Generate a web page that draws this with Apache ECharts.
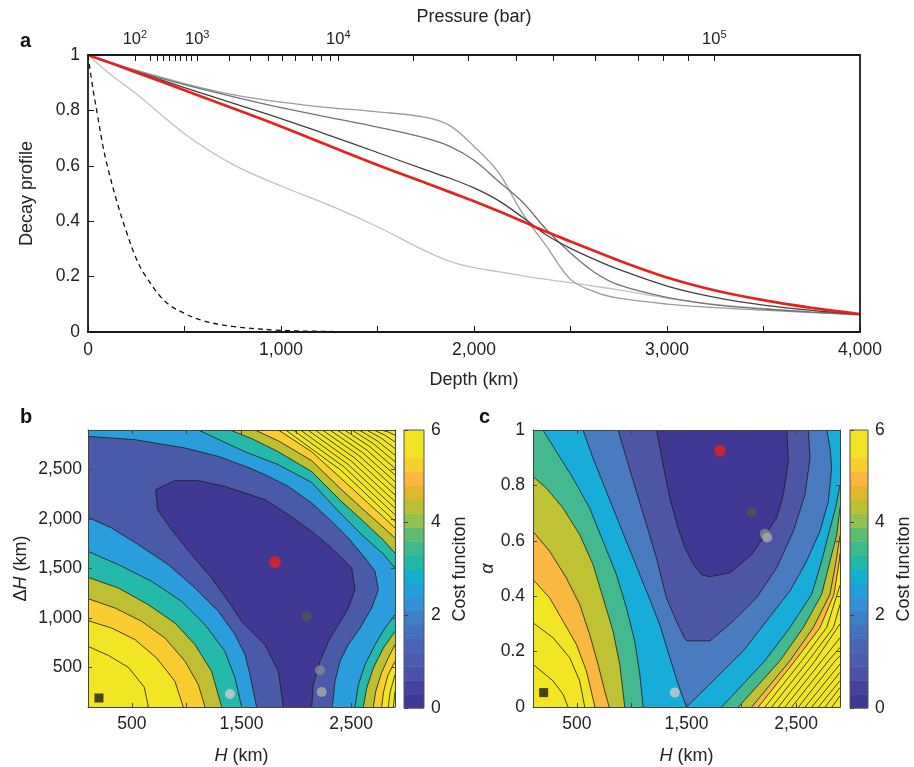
<!DOCTYPE html>
<html>
<head>
<meta charset="utf-8">
<script src="https://cdn.jsdelivr.net/npm/echarts@6/dist/echarts.min.js"></script>
<style>html,body{margin:0;padding:0;background:#fff}#main{width:914px;height:767px}</style>
</head>
<body>
<div id="main"></div>
<script>
// ================= DATA =================
// ---- Panel a: decay profiles vs depth
const depthKm        = [0,125,250,500,750,1000,1250,1500,1750,1875,2000,2125,2250,2375,2500,2625,2750,3000,3250,3500,3750,4000];
const profileBest    = [1,0.969,0.937,0.873,0.808,0.742,0.672,0.603,0.538,0.505,0.472,0.437,0.400,0.362,0.327,0.292,0.258,0.197,0.150,0.115,0.087,0.065];
const profileDark    = [1,0.970,0.940,0.882,0.826,0.770,0.710,0.648,0.585,0.555,0.520,0.475,0.415,0.350,0.302,0.262,0.226,0.166,0.125,0.097,0.078,0.063];
const profileMid     = [1,0.970,0.942,0.893,0.850,0.810,0.775,0.740,0.700,0.670,0.620,0.545,0.470,0.370,0.285,0.215,0.170,0.125,0.098,0.083,0.072,0.064];
const profileSteep   = [1,0.972,0.945,0.897,0.857,0.830,0.810,0.795,0.775,0.745,0.670,0.578,0.430,0.310,0.190,0.145,0.122,0.101,0.088,0.079,0.070,0.063];
const profileShallow = [1,0.925,0.860,0.716,0.605,0.527,0.458,0.380,0.292,0.255,0.232,0.218,0.203,0.190,0.178,0.165,0.152,0.122,0.100,0.085,0.072,0.060];
const dashedDepthKm  = [0,25,50,75,100,150,200,250,300,400,500,600,750,1000,1250,1350];
const profileDashed  = [1,0.88,0.78,0.68,0.60,0.47,0.36,0.265,0.20,0.11,0.067,0.04,0.02,0.006,0.002,0.001];
// top axis: pressure ticks (bar) and the depth (km) where they sit
const pressureTickBar     = [100,200,300,400,500,600,700,800,900,1000,2000,3000,4000,5000,6000,7000,8000,9000,10000,20000,30000,40000,50000,60000,70000,80000,90000,100000];
const pressureTickDepthKm = [243,321,361,392,421,451,480,511,537,566,732,839,934,1007,1076,1164,1211,1254,1297,1686,1970,2221,2411,2627,2851,2978,3110,3245];
const pressureLabelBar     = [100,1000,10000,100000];
const pressureLabelDepthKm = [243,566,1297,3245];

// ---- Panel b: cost function contours, H (km) vs dH (km)
const bCore = [[1882,100],[1836,460],[1714,730],[1501,966],[1380,1168],[1228,1404],[1045,1640],[863,1892],[735,2094],[717,2297],[893,2388],[1106,2388],[1349,2330],[1532,2263],[1714,2196],[1927,2044],[2140,1875],[2322,1707],[2505,1505],[2535,1286],[2474,1101],[2383,932],[2292,764],[2216,562],[2155,326],[2140,100]];
const bLL2 = [[100,2017],[316,1909],[559,1741],[833,1539],[1076,1303],[1289,1067],[1441,831],[1532,629],[1577,427],[1638,100]];
const bUpper2 = [[2328,100],[2353,359],[2398,562],[2474,730],[2581,898],[2687,1101],[2748,1286],[2718,1471],[2626,1606],[2474,1808],[2322,1977],[2140,2162],[1927,2330],[1714,2448],[1574,2516],[1289,2633],[985,2718],[529,2802],[100,2836]];
const bLL3 = [[100,1673],[377,1539],[681,1370],[954,1168],[1167,932],[1349,663],[1441,393],[1501,100]];
const bLL4 = [[100,1411],[377,1303],[650,1134],[893,949],[1076,730],[1228,460],[1319,100]];
const bLL5 = [[100,1195],[346,1101],[589,966],[802,797],[985,562],[1106,326],[1167,100]];
const bLL6 = [[100,973],[316,898],[529,781],[726,595],[893,359],[969,100]];
const bLL7 = [[100,713],[285,622],[468,501],[614,299],[650,100]];
const bLR3 = [[2535,100],[2566,326],[2626,528],[2718,730],[2809,898],[2900,1033]];
const bLR4 = [[2611,100],[2642,292],[2702,494],[2794,696],[2900,865]];
const bLR5 = [[2702,100],[2725,260],[2775,440],[2840,600],[2900,730]];
const bLR6 = [[2778,100],[2795,250],[2835,420],[2900,562]];
const bLRHatch = [[[2839,100],[2855,250],[2900,427]],[[2885,100],[2900,258]]];
const bUR3 = [[2900,1505],[2800,1640],[2596,1842],[2400,2060],[2140,2370],[1836,2549],[1532,2680],[1300,2800],[1106,2900]];
const bUR4 = [[2900,1656],[2800,1780],[2596,1993],[2400,2190],[2140,2480],[1836,2680],[1600,2810],[1395,2900]];
const bUR5 = [[2900,1808],[2780,1930],[2596,2111],[2400,2310],[2140,2590],[1836,2790],[1623,2900]];
const bUR6 = [[2900,1909],[2780,2035],[2596,2220],[2400,2420],[2140,2680],[1836,2900]];
const bURHatch = [
  [[1903,2900],[2402,2498],[2900,1976]],[[1970,2900],[2435,2527],[2900,2043]],
  [[2037,2900],[2469,2555],[2900,2110]],[[2104,2900],[2502,2585],[2900,2177]],
  [[2171,2900],[2536,2614],[2900,2244]],[[2238,2900],[2569,2644],[2900,2311]],
  [[2305,2900],[2603,2673],[2900,2378]],[[2372,2900],[2636,2703],[2900,2445]],
  [[2439,2900],[2670,2732],[2900,2512]],[[2506,2900],[2703,2762],[2900,2579]],
  [[2573,2900],[2737,2791],[2900,2646]],[[2640,2900],[2770,2821],[2900,2713]],
  [[2707,2900],[2804,2850],[2900,2780]],[[2774,2900],[2837,2880],[2900,2847]]
];
const bBest = [[1805,1566]];
const bDark = [[2094,1016]];
const bMid = [[2216,471]];
const bLight = [[2231,252]];
const bPale = [[1395,231]];
const bStart = [[200,191]];

// ---- Panel c: cost function contours, H (km) vs alpha
const cCore = [[1226,1],[1287,0.874],[1348,0.754],[1420,0.65],[1480,0.58],[1563,0.515],[1640,0.478],[1710,0.47],[1897,0.485],[2095,0.551],[2201,0.611],[2323,0.683],[2383,0.767],[2429,0.887],[2414,1]];
const cLine1 = [[876,1],[952,0.898],[1043,0.778],[1135,0.658],[1226,0.538],[1317,0.394],[1408,0.31],[1480,0.25],[1502,0.239],[1715,0.239],[1927,0.311],[2140,0.395],[2323,0.503],[2475,0.635],[2581,0.767],[2627,0.9],[2611,1]];
const cLine2 = [[556,1],[648,0.898],[769,0.778],[891,0.658],[1013,0.538],[1135,0.418],[1256,0.298],[1348,0.178],[1424,0.082],[1500,0],[1745,0.095],[2019,0.203],[2231,0.311],[2444,0.419],[2596,0.527],[2718,0.635],[2794,0.743],[2824,0.863],[2809,0.935],[2779,1]];
const cLL3 = [[191,1],[313,0.922],[465,0.826],[617,0.718],[739,0.598],[861,0.478],[952,0.358],[1028,0.238],[1074,0.118],[1104,0]];
const cLL4 = [[100,0.832],[222,0.79],[374,0.718],[526,0.622],[648,0.514],[739,0.394],[830,0.274],[891,0.154],[937,0]];
const cLL5 = [[100,0.634],[252,0.562],[404,0.466],[526,0.37],[617,0.262],[693,0.154],[754,0.058],[795,0]];
const cLL6 = [[100,0.46],[252,0.394],[374,0.31],[496,0.226],[587,0.13],[665,0]];
const cLLHatch = [[[100,0.304],[283,0.25],[435,0.178],[526,0.094],[572,0]],[[100,0.154],[283,0.094],[374,0.046],[420,0]]];
const cLR3 = [[1821,0],[2216,0.167],[2444,0.287],[2642,0.407],[2733,0.527],[2800,0.63],[2860,0.72],[2900,0.80]];
const cLR4 = [[1973,0],[2353,0.167],[2566,0.287],[2733,0.407],[2809,0.527],[2870,0.62],[2900,0.72]];
const cLR5 = [[2095,0],[2444,0.167],[2657,0.287],[2809,0.407],[2864,0.527],[2900,0.62]];
const cLR6 = [[2155,0],[2490,0.167],[2718,0.287],[2845,0.407],[2894,0.527],[2900,0.555]];
const cLRHatch = [
  [[2216,0],[2551,0.167],[2779,0.287],[2900,0.44]],[[2277,0],[2612,0.167],[2840,0.287],[2900,0.37]],
  [[2338,0],[2673,0.167],[2900,0.30]],[[2399,0],[2734,0.167],[2900,0.25]],
  [[2460,0],[2795,0.167],[2900,0.215]],[[2521,0],[2856,0.167],[2900,0.185]],
  [[2582,0],[2900,0.155]],[[2643,0],[2900,0.125]],[[2704,0],[2900,0.095]],
  [[2765,0],[2900,0.07]],[[2826,0],[2900,0.04]]
];
const cBest = [[1804,0.925]];
const cDark = [[2093,0.703]];
const cMid = [[2215,0.625]];
const cLight = [[2236,0.612]];
const cPale = [[1393,0.052]];
const cStart = [[197,0.052]];

// ---- Colour bar (cost function)
const costLevels = [0,0.3,0.6,0.9,1.2,1.5,1.8,2.1,2.4,2.7,3.0,3.3,3.6,3.9,4.2,4.5,4.8,5.1,5.4,5.7,6.0];
const costTickValues = [0,2,4,6];

// ================= STYLE =================
const FONT = '"Liberation Sans", Arial, Helvetica, sans-serif';
const TXT = '#222';
const barColors = ['#3e3996','#4444a0','#4951a8','#4a5dae','#4866b5','#4472bd','#3d80c8','#3490d8','#209fdc','#14b0cf','#22b8a8','#3cb98e','#5ebc6c','#8fc250','#bcbf34','#e0b72c','#fbb540','#f8cf2e','#f2e424','#f2e424'];
const bColors = ['#3f3995','#4a5aa8','#2a9ddc','#24b9a8','#bfbf34','#f9cd2f','#f2e523'];
const cColors = ['#3f3995','#4d55a5','#4a7abf','#17acd9','#44b990','#bec233','#f9b840','#f2e523'];
const LINE = '#1b1b1b';

function makeContourRenderer(build) {
  return function (params, api) {
    const P = a => a.map(p => api.coord(p));
    const g = [];
    const fill = (arr, color) => g.push({type: 'polygon', shape: {points: P(arr)}, style: {fill: color}});
    const line = arr => g.push({type: 'polyline', shape: {points: P(arr)}, style: {stroke: LINE, lineWidth: 0.8, fill: null}});
    build(fill, line);
    return {type: 'group', children: g};
  };
}

const renderB = makeContourRenderer(function (fill, line) {
  const TL = [100, 2900], TR = [2900, 2900], BR = [2900, 100], BL = [100, 100];
  fill([BL, BR, TR, TL], bColors[6]);
  fill([...bLL6, ...bLR6, ...bUR6, TL], bColors[5]);
  fill([...bLL5, ...bLR5, ...bUR5, TL], bColors[4]);
  fill([...bLL4, ...bLR4, ...bUR4, TL], bColors[3]);
  fill([...bLL3, ...bLR3, ...bUR3, TL], bColors[2]);
  fill([...bLL2, ...bUpper2], bColors[1]);
  fill(bCore, bColors[0]);
  [bCore, bLL2, bUpper2, bLL3, bLL4, bLL5, bLL6, bLL7, bLR3, bLR4, bLR5, bLR6, bUR3, bUR4, bUR5, bUR6].forEach(line);
  bLRHatch.forEach(line);
  bURHatch.forEach(line);
});

const renderC = makeContourRenderer(function (fill, line) {
  const TL = [100, 1], TR = [2900, 1], BR = [2900, 0], BL = [100, 0];
  fill([BL, BR, TR, TL], cColors[7]);
  fill([...cLL6, ...cLR6, TR, TL], cColors[6]);
  fill([...cLL5, ...cLR5, TR, TL], cColors[5]);
  fill([...cLL4, ...cLR4, TR, TL], cColors[4]);
  fill([...cLL3, ...cLR3, TR], cColors[3]);
  fill(cLine2, cColors[2]);
  fill(cLine1, cColors[1]);
  fill(cCore, cColors[0]);
  [cCore, cLine1, cLine2, cLL3, cLL4, cLL5, cLL6, cLR3, cLR4, cLR5, cLR6].forEach(line);
  cLLHatch.forEach(line);
  cLRHatch.forEach(line);
});

function renderColorbar(params, api) {
  const g = [];
  for (let i = 0; i < barColors.length; i++) {
    const p0 = api.coord([0, costLevels[i]]);
    const p1 = api.coord([1, costLevels[i + 1]]);
    g.push({type: 'rect', shape: {x: p0[0], y: p1[1], width: p1[0] - p0[0], height: p0[1] - p1[1] + 0.5}, style: {fill: barColors[i]}});
  }
  const a = api.coord([0, costLevels[0]]), b = api.coord([1, costLevels[costLevels.length - 1]]);
  g.push({type: 'rect', shape: {x: a[0], y: b[1], width: b[0] - a[0], height: a[1] - b[1]}, style: {fill: null, stroke: '#555', lineWidth: 1}});
  return {type: 'group', children: g};
}

const comma = v => Number(v).toLocaleString('en-US');
const frameLine = {show: true, onZero: false, lineStyle: {color: '#444', width: 1}};
const boldLine = {show: true, onZero: false, lineStyle: {color: '#1a1a1a', width: 1.8}};
const labelStyle = {fontSize: 17.5, color: TXT, fontFamily: FONT};
const nameStyle = {fontSize: 18, color: TXT, fontFamily: FONT};
const italicRich = {i: {fontStyle: 'italic', fontSize: 18, color: TXT, fontFamily: FONT}};
const hTicks = [500, 1000, 1500, 2000, 2500];
const hLabels = [500, 1500, 2500];
const dHTicks = [500, 1000, 1500, 2000, 2500];

function pressureLabel(v) {
  let best = -1, bd = 1e9;
  pressureLabelDepthKm.forEach((d, i) => { if (Math.abs(d - v) < bd) { bd = Math.abs(d - v); best = i; } });
  if (best < 0 || bd > 5) return '';
  return '10{s|' + Math.round(Math.log10(pressureLabelBar[best])) + '}';
}

const lineBase = {type: 'line', xAxisIndex: 0, yAxisIndex: 0, showSymbol: false, smooth: 0.35};

const option = {
  animation: false,
  backgroundColor: '#ffffff',
  textStyle: {fontFamily: FONT},
  grid: [
    {left: 88, top: 55, width: 772, height: 277},
    {left: 88, top: 430, width: 307, height: 277},
    {left: 533, top: 430, width: 307, height: 277},
    {left: 404, top: 430, width: 20, height: 278},
    {left: 850, top: 430, width: 20, height: 278}
  ],
  xAxis: [
    {gridIndex: 0, type: 'value', min: 0, max: 4000, position: 'bottom', z: 10,
     axisLine: boldLine,
     axisTick: {inside: true, length: 6, customValues: [0,500,1000,1500,2000,2500,3000,3500,4000], lineStyle: {color: '#1a1a1a'}},
     axisLabel: {customValues: [0,1000,2000,3000,4000], formatter: comma, margin: 9, ...labelStyle},
     splitLine: {show: false},
     name: 'Depth (km)', nameLocation: 'middle', nameGap: 39, nameTextStyle: nameStyle},
    {gridIndex: 0, type: 'value', min: 0, max: 4000, position: 'top', z: 10,
     axisLine: boldLine,
     axisTick: {inside: true, length: 6, customValues: pressureTickDepthKm, lineStyle: {color: '#1a1a1a'}},
     axisLabel: {customValues: pressureLabelDepthKm, formatter: pressureLabel, margin: 6,
       fontSize: 16.5, color: TXT, lineHeight: 20,
       rich: {s: {fontSize: 11, color: TXT, verticalAlign: 'top', lineHeight: 10, fontFamily: FONT}}},
     splitLine: {show: false},
     name: 'Pressure (bar)', nameLocation: 'middle', nameGap: 29, nameTextStyle: nameStyle},
    {gridIndex: 1, type: 'value', min: 100, max: 2900, position: 'bottom', z: 10,
     axisLine: frameLine,
     axisTick: {inside: true, length: 4, customValues: hTicks, lineStyle: {color: '#444'}},
     axisLabel: {customValues: hLabels, formatter: comma, margin: 8, ...labelStyle},
     splitLine: {show: false},
     name: '{i|H} (km)', nameLocation: 'middle', nameGap: 40,
     nameTextStyle: {...nameStyle, rich: italicRich}},
    {gridIndex: 1, type: 'value', min: 100, max: 2900, position: 'top', z: 10,
     axisLine: frameLine, axisTick: {inside: true, length: 4, customValues: hTicks, lineStyle: {color: '#444'}},
     axisLabel: {show: false}, splitLine: {show: false}},
    {gridIndex: 2, type: 'value', min: 100, max: 2900, position: 'bottom', z: 10,
     axisLine: frameLine,
     axisTick: {inside: true, length: 4, customValues: hTicks, lineStyle: {color: '#444'}},
     axisLabel: {customValues: hLabels, formatter: comma, margin: 8, ...labelStyle},
     splitLine: {show: false},
     name: '{i|H} (km)', nameLocation: 'middle', nameGap: 40,
     nameTextStyle: {...nameStyle, rich: italicRich}},
    {gridIndex: 2, type: 'value', min: 100, max: 2900, position: 'top', z: 10,
     axisLine: frameLine, axisTick: {inside: true, length: 4, customValues: hTicks, lineStyle: {color: '#444'}},
     axisLabel: {show: false}, splitLine: {show: false}},
    {gridIndex: 3, type: 'value', min: 0, max: 1, show: false},
    {gridIndex: 4, type: 'value', min: 0, max: 1, show: false}
  ],
  yAxis: [
    {gridIndex: 0, type: 'value', min: 0, max: 1, interval: 0.2, position: 'left', z: 10,
     axisLine: boldLine,
     axisTick: {show: true, inside: true, length: 6, lineStyle: {color: '#1a1a1a'}},
     axisLabel: {formatter: v => String(Math.round(v * 10) / 10), margin: 8, ...labelStyle},
     splitLine: {show: false},
     name: 'Decay profile', nameLocation: 'middle', nameGap: 52, nameRotate: 90, nameTextStyle: nameStyle},
    {gridIndex: 0, type: 'value', min: 0, max: 1, position: 'right', z: 10,
     axisLine: boldLine,
     axisTick: {show: false}, axisLabel: {show: false}, splitLine: {show: false}},
    {gridIndex: 1, type: 'value', min: 100, max: 2900, position: 'left', z: 10,
     axisLine: frameLine,
     axisTick: {inside: true, length: 4, customValues: dHTicks, lineStyle: {color: '#444'}},
     axisLabel: {customValues: dHTicks, formatter: comma, margin: 6, ...labelStyle},
     splitLine: {show: false},
     name: '\u0394{i|H} (km)', nameLocation: 'middle', nameGap: 58, nameRotate: 90,
     nameTextStyle: {...nameStyle, rich: italicRich}},
    {gridIndex: 1, type: 'value', min: 100, max: 2900, position: 'right', z: 10,
     axisLine: frameLine, axisTick: {inside: true, length: 4, customValues: dHTicks, lineStyle: {color: '#444'}},
     axisLabel: {show: false}, splitLine: {show: false}},
    {gridIndex: 2, type: 'value', min: 0, max: 1, interval: 0.2, position: 'left', z: 10,
     axisLine: frameLine,
     axisTick: {inside: true, length: 4, lineStyle: {color: '#444'}},
     axisLabel: {formatter: v => String(Math.round(v * 10) / 10), margin: 8, ...labelStyle},
     splitLine: {show: false},
     name: '\u03b1', nameLocation: 'middle', nameGap: 33, nameRotate: 90,
     nameTextStyle: {...nameStyle, fontStyle: 'italic'}},
    {gridIndex: 2, type: 'value', min: 0, max: 1, interval: 0.2, position: 'right', z: 10,
     axisLine: frameLine, axisTick: {inside: true, length: 4, lineStyle: {color: '#444'}},
     axisLabel: {show: false}, splitLine: {show: false}},
    {gridIndex: 3, type: 'value', min: 0, max: 6, position: 'right', z: 10,
     axisLine: {show: false},
     axisTick: {show: true, length: 4, customValues: costTickValues, lineStyle: {color: '#444'}},
     axisLabel: {customValues: costTickValues, margin: 7, ...labelStyle},
     splitLine: {show: false},
     name: 'Cost funciton', nameLocation: 'middle', nameGap: 27, nameRotate: 90, nameTextStyle: nameStyle},
    {gridIndex: 4, type: 'value', min: 0, max: 6, position: 'right', z: 10,
     axisLine: {show: false},
     axisTick: {show: true, length: 4, customValues: costTickValues, lineStyle: {color: '#444'}},
     axisLabel: {customValues: costTickValues, margin: 7, ...labelStyle},
     splitLine: {show: false},
     name: 'Cost funciton', nameLocation: 'middle', nameGap: 27, nameRotate: 90, nameTextStyle: nameStyle}
  ],
  graphic: [
    {type: 'text', left: 20, top: 31, style: {text: 'a', fontSize: 20, fontWeight: 'bold', fill: '#111', fontFamily: FONT}},
    {type: 'text', left: 20, top: 407, style: {text: 'b', fontSize: 20, fontWeight: 'bold', fill: '#111', fontFamily: FONT}},
    {type: 'text', left: 479, top: 407, style: {text: 'c', fontSize: 20, fontWeight: 'bold', fill: '#111', fontFamily: FONT}}
  ],
  series: [
    // panel a
    {...lineBase, lineStyle: {color: '#c2c2c2', width: 1.3}, data: depthKm.map((d, i) => [d, profileShallow[i]])},
    {...lineBase, lineStyle: {color: '#9c9c9c', width: 1.3}, data: depthKm.map((d, i) => [d, profileSteep[i]])},
    {...lineBase, lineStyle: {color: '#727272', width: 1.3}, data: depthKm.map((d, i) => [d, profileMid[i]])},
    {...lineBase, lineStyle: {color: '#404040', width: 1.3}, data: depthKm.map((d, i) => [d, profileDark[i]])},
    {...lineBase, lineStyle: {color: '#111', width: 1.3, type: [5, 4]}, data: dashedDepthKm.map((d, i) => [d, profileDashed[i]])},
    {...lineBase, lineStyle: {color: '#e8201f', width: 2.7}, data: depthKm.map((d, i) => [d, profileBest[i]])},
    // panel b
    {type: 'custom', xAxisIndex: 2, yAxisIndex: 2, renderItem: renderB, clip: true, silent: true, data: [[1500, 1500]], encode: {x: 0, y: 1}},
    {type: 'scatter', xAxisIndex: 2, yAxisIndex: 2, symbolSize: 12, itemStyle: {color: '#e8201f'}, data: bBest, z: 4},
    {type: 'scatter', xAxisIndex: 2, yAxisIndex: 2, symbolSize: 10, itemStyle: {color: '#555555'}, data: bDark, z: 4},
    {type: 'scatter', xAxisIndex: 2, yAxisIndex: 2, symbolSize: 10, itemStyle: {color: '#888888'}, data: bMid, z: 4},
    {type: 'scatter', xAxisIndex: 2, yAxisIndex: 2, symbolSize: 10, itemStyle: {color: '#aaaaaa'}, data: bLight, z: 4},
    {type: 'scatter', xAxisIndex: 2, yAxisIndex: 2, symbolSize: 10, itemStyle: {color: '#cccccc'}, data: bPale, z: 4},
    {type: 'scatter', xAxisIndex: 2, yAxisIndex: 2, symbol: 'rect', symbolSize: 9, itemStyle: {color: '#1a1a1a'}, data: bStart, z: 4},
    // panel c
    {type: 'custom', xAxisIndex: 4, yAxisIndex: 4, renderItem: renderC, clip: true, silent: true, data: [[1500, 0.5]], encode: {x: 0, y: 1}},
    {type: 'scatter', xAxisIndex: 4, yAxisIndex: 4, symbolSize: 12, itemStyle: {color: '#e8201f'}, data: cBest, z: 4},
    {type: 'scatter', xAxisIndex: 4, yAxisIndex: 4, symbolSize: 10, itemStyle: {color: '#555555'}, data: cDark, z: 4},
    {type: 'scatter', xAxisIndex: 4, yAxisIndex: 4, symbolSize: 10, itemStyle: {color: '#888888'}, data: cMid, z: 4},
    {type: 'scatter', xAxisIndex: 4, yAxisIndex: 4, symbolSize: 10, itemStyle: {color: '#aaaaaa'}, data: cLight, z: 4},
    {type: 'scatter', xAxisIndex: 4, yAxisIndex: 4, symbolSize: 10, itemStyle: {color: '#cccccc'}, data: cPale, z: 4},
    {type: 'scatter', xAxisIndex: 4, yAxisIndex: 4, symbol: 'rect', symbolSize: 9, itemStyle: {color: '#1a1a1a'}, data: cStart, z: 4},
    // colour bars
    {type: 'custom', xAxisIndex: 6, yAxisIndex: 6, renderItem: renderColorbar, silent: true, data: [[0.5, 3]], encode: {x: 0, y: 1}},
    {type: 'custom', xAxisIndex: 7, yAxisIndex: 7, renderItem: renderColorbar, silent: true, data: [[0.5, 3]], encode: {x: 0, y: 1}}
  ]
};

const chart = echarts.init(document.getElementById('main'), null, {renderer: 'canvas', width: 914, height: 767});
chart.setOption(option);
</script>
</body>
</html>
